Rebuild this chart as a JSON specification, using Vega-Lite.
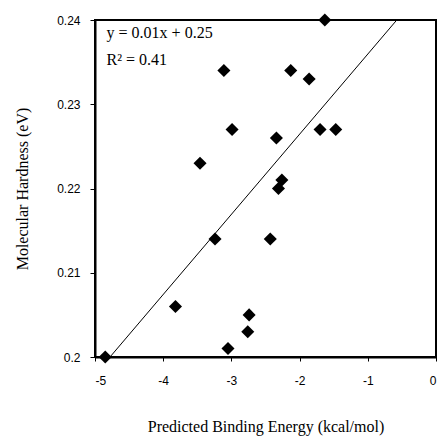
{
  "$schema": "https://vega.github.io/schema/vega-lite/v6.json",
  "width": 341,
  "height": 337,
  "autosize": {"type": "none"},
  "padding": {"left": 95, "top": 20, "right": 4, "bottom": 80},
  "background": "white",
  "config": {
    "view": {"stroke": "black", "strokeWidth": 2},
    "axis": {"grid": false, "domainColor": "black", "domainWidth": 2, "tickColor": "black", "tickWidth": 1, "labelFont": "Liberation Sans", "labelFontSize": 12, "labelColor": "black", "titleFont": "Liberation Serif", "titleFontSize": 16, "titleFontWeight": "normal", "titleColor": "black"}
  },
  "datasets": {
    "points": [
      {"energy": -1.63, "hardness": 0.240},
      {"energy": -3.11, "hardness": 0.234},
      {"energy": -2.13, "hardness": 0.234},
      {"energy": -1.86, "hardness": 0.233},
      {"energy": -2.99, "hardness": 0.227},
      {"energy": -1.70, "hardness": 0.227},
      {"energy": -1.47, "hardness": 0.227},
      {"energy": -2.34, "hardness": 0.226},
      {"energy": -2.26, "hardness": 0.221},
      {"energy": -2.31, "hardness": 0.220},
      {"energy": -3.46, "hardness": 0.223},
      {"energy": -3.24, "hardness": 0.214},
      {"energy": -2.43, "hardness": 0.214},
      {"energy": -3.82, "hardness": 0.206},
      {"energy": -4.85, "hardness": 0.200},
      {"energy": -2.74, "hardness": 0.205},
      {"energy": -2.76, "hardness": 0.203},
      {"energy": -3.05, "hardness": 0.201}
    ],
    "trend": [
      {"energy": -4.78, "hardness": 0.2},
      {"energy": -0.575, "hardness": 0.24}
    ],
    "labels": [
      {"energy": -4.83, "hardness": 0.2384, "text": "y = 0.01x + 0.25"},
      {"energy": -4.83, "hardness": 0.2352, "text": "R² = 0.41"}
    ]
  },
  "encoding": {
    "x": {"field": "energy", "type": "quantitative", "scale": {"domain": [-5, 0], "nice": false, "zero": false},
      "axis": {"title": "Predicted Binding Energy (kcal/mol)", "values": [-5, -4, -3, -2, -1, 0], "labelExpr": "'' + datum.value", "tickSize": 4, "labelPadding": 14, "titlePadding": 32}},
    "y": {"field": "hardness", "type": "quantitative", "scale": {"domain": [0.2, 0.24], "nice": false, "zero": false},
      "axis": {"title": "Molecular Hardness (eV)", "values": [0.2, 0.21, 0.22, 0.23, 0.24], "format": ".2~f", "tickSize": 5, "labelPadding": 10, "titlePadding": 26}}
  },
  "layer": [
    {"data": {"name": "trend"}, "mark": {"type": "line", "color": "black", "strokeWidth": 1}},
    {"data": {"name": "points"}, "mark": {"type": "point", "shape": "diamond", "filled": true, "color": "black", "opacity": 1, "size": 170}},
    {"data": {"name": "labels"}, "mark": {"type": "text", "align": "left", "baseline": "middle", "font": "Liberation Serif", "fontSize": 16, "color": "black"}, "encoding": {"text": {"field": "text"}}}
  ]
}
